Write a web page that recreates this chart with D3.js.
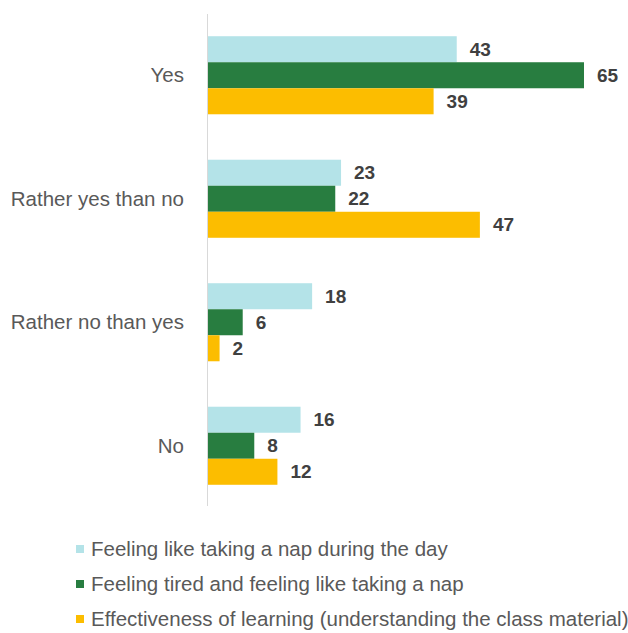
<!DOCTYPE html>
<html><head><meta charset="utf-8">
<script src="https://cdn.jsdelivr.net/npm/d3@7"></script>
<style>body{margin:0;background:#fff}svg{display:block}</style>
</head><body>
<script>
const categories = ["Yes", "Rather yes than no", "Rather no than yes", "No"];
const seriesNames = ["Feeling like taking a nap during the day", "Feeling tired and feeling like taking a nap", "Effectiveness of learning (understanding the class material)"];
const napDay = [43, 23, 18, 16];
const tiredNap = [65, 22, 6, 8];
const learning = [39, 47, 2, 12];
const colors = ["#b4e3e8", "#287d40", "#fcbd00"];

const W = 628, H = 633;
const FONT = "Liberation Sans, Arial, sans-serif";
const svg = d3.select("body").append("svg").attr("width", W).attr("height", H);
const values = [napDay, tiredNap, learning];

const x = d3.scaleLinear().domain([0, 65]).range([208, 584]);
const y = d3.scaleBand().domain(categories).range([13.5, 507.5]).paddingInner(0.368).paddingOuter(0.184);
const ys = d3.scaleBand().domain(d3.range(3)).range([0, y.bandwidth()]);

svg.append("line").attr("x1", 207.5).attr("x2", 207.5).attr("y1", 14).attr("y2", 506)
  .attr("stroke", "#d9d9d9").attr("stroke-width", 1);

categories.forEach((c, i) => {
  const g = svg.append("g").attr("transform", `translate(0,${y(c)})`);
  values.forEach((arr, s) => {
    g.append("rect").attr("x", x(0)).attr("y", ys(s)).attr("width", x(arr[i]) - x(0))
      .attr("height", ys.bandwidth()).attr("fill", colors[s]);
    g.append("text").attr("x", x(arr[i]) + 13).attr("y", ys(s) + ys.bandwidth() / 2)
      .attr("dy", "0.35em").attr("font-family", FONT)
      .attr("font-size", 19).attr("font-weight", "bold").attr("fill", "#404040").text(arr[i]);
  });
  svg.append("text").attr("x", 184).attr("y", y(c) + y.bandwidth() / 2).attr("dy", "0.35em")
    .attr("text-anchor", "end").attr("font-family", FONT)
    .attr("font-size", 20.5).attr("fill", "#595959").text(c);
});

const legY = [549, 584, 619];
seriesNames.forEach((n, s) => {
  svg.append("rect").attr("x", 76).attr("y", legY[s] - 4).attr("width", 8).attr("height", 8).attr("fill", colors[s]);
  svg.append("text").attr("x", 91).attr("y", legY[s]).attr("dy", "0.35em")
    .attr("font-family", FONT).attr("font-size", 20.5)
    .attr("fill", "#595959").text(n);
});
</script>
</body></html>
